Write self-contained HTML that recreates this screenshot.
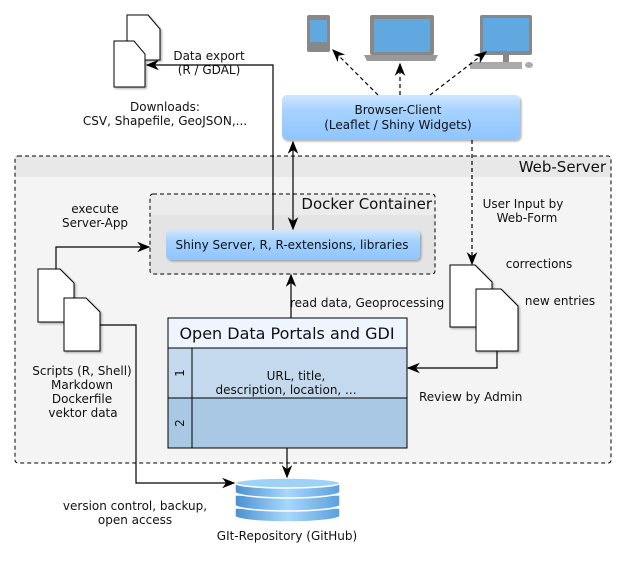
<!DOCTYPE html>
<html><head><meta charset="utf-8"><style>body{margin:0;background:#fff}svg{display:block}text{font-family:"DejaVu Sans","Liberation Sans",sans-serif;font-size:12px;fill:#111}</style></head><body>
<svg width="626" height="561" viewBox="0 0 626 561" xmlns="http://www.w3.org/2000/svg">
<defs>
<marker id="a" viewBox="0 0 10 10" refX="9" refY="5" markerWidth="11" markerHeight="11" orient="auto-start-reverse"><path d="M0,1 L10,5 L0,9 L3,5z" fill="#000"/></marker>
<linearGradient id="bl" x1="0" y1="0" x2="0" y2="1"><stop offset="0" stop-color="#cfe6ff"/><stop offset="0.35" stop-color="#a6d2ff"/><stop offset="1" stop-color="#8ec5ff"/></linearGradient>
<linearGradient id="db" x1="0" y1="0" x2="1" y2="0"><stop offset="0" stop-color="#4a90d0"/><stop offset="0.5" stop-color="#a8d8fb"/><stop offset="1" stop-color="#5aa0dc"/></linearGradient>
<filter id="sh"><feDropShadow dx="1.5" dy="1.5" stdDeviation="1" flood-opacity="0.3"/></filter>
</defs>
<rect x="15" y="156" width="596" height="307" rx="3" fill="#f4f4f4"/>
<rect x="15" y="156" width="596" height="21" fill="#e8e8e8"/>
<rect x="15" y="156" width="596" height="307" rx="3" fill="none" stroke="#000" stroke-dasharray="4,3"/>
<text x="606" y="172" text-anchor="end" style="font-size:15px">Web-Server</text>
<rect x="150" y="194" width="285" height="80" rx="3" fill="#e4e4e4"/>
<rect x="150" y="194" width="285" height="21" fill="#ececec"/>
<rect x="150" y="194" width="285" height="80" rx="3" fill="none" stroke="#000" stroke-dasharray="4,3"/>
<text x="432" y="209" text-anchor="end" style="font-size:15px">Docker Container</text>
<rect x="166" y="230" width="254" height="30" rx="5" fill="url(#bl)" filter="url(#sh)"/>
<text x="292" y="249" text-anchor="middle" style="font-size:12px">Shiny Server, R, R-extensions, libraries</text>
<rect x="282" y="95" width="238" height="45" rx="5" fill="url(#bl)" filter="url(#sh)"/>
<text x="398" y="114" text-anchor="middle">Browser-Client</text>
<text x="398" y="129" text-anchor="middle">(Leaflet / Shiny Widgets)</text>
<rect x="168" y="318" width="239" height="30" fill="#eef5ff" stroke="#000"/>
<rect x="168" y="348" width="239" height="50" fill="#c5d9ee" stroke="#000"/>
<rect x="168" y="398" width="239" height="50" fill="#a9c8e3" stroke="#000"/>
<line x1="192" y1="348" x2="192" y2="448" stroke="#000"/>
<text x="287" y="339" text-anchor="middle" style="font-size:16px">Open Data Portals and GDI</text>
<text x="296" y="380" text-anchor="middle">URL, title,</text>
<text x="286" y="394" text-anchor="middle">description, location, ...</text>
<text transform="translate(184,373) rotate(-90)" text-anchor="middle">1</text>
<text transform="translate(184,423) rotate(-90)" text-anchor="middle">2</text>
<g fill="#fff" stroke="#000" stroke-width="1" filter="url(#sh)">
<path d="M127,15 h21 l12,14 v31 h-33z"/><path d="M114,41 h20 l11,13 v33 h-31z"/>
<path d="M38,269 h22 l14,14 v39 h-36z"/><path d="M64,298 h22 l14,14 v39 h-36z"/>
<path d="M450,265 h25 l17,17 v45 h-42z"/><path d="M476,289 h25 l17,17 v45 h-42z"/>
</g>
<rect x="307" y="15" width="23" height="37" rx="2" fill="#888"/><rect x="310" y="20" width="17" height="22" fill="#5fa8e0"/>
<rect x="370" y="15" width="64" height="40" rx="2" fill="#888"/><rect x="374" y="19" width="56" height="33" fill="#5fa8e0"/><path d="M364,55 h74 l-3,6 h-68z" fill="#999"/>
<rect x="480" y="15" width="52" height="40" rx="2" fill="#888"/><rect x="483" y="18" width="46" height="33" fill="#5fa8e0"/><rect x="503" y="55" width="6" height="8" fill="#888"/><rect x="470" y="62" width="52" height="7" fill="#aaa"/><ellipse cx="529" cy="65" rx="4" ry="3" fill="#aaa"/>
<g stroke="#fff" stroke-width="1.5">
<path d="M235,508 v8 a52,6 0 0 0 105,0 v-8z" fill="url(#db)"/>
<path d="M235,495 v10 a52,6 0 0 0 105,0 v-10z" fill="url(#db)"/>
<path d="M235,483 v9 a52,6 0 0 0 105,0 v-9z" fill="url(#db)"/>
<ellipse cx="287.5" cy="483" rx="52.5" ry="5" fill="#9fd0f6"/>
</g>
<g fill="none" stroke="#000" stroke-width="1.2">
<path d="M273,230 V65 H147" marker-end="url(#a)"/>
<path d="M293,142 V229" marker-start="url(#a)" marker-end="url(#a)"/>
<path d="M291,318 V275" marker-end="url(#a)"/>
<path d="M56,269 V247 H149" marker-end="url(#a)"/>
<path d="M100,325 H136 V483 H234" marker-end="url(#a)"/>
<path d="M287,448 V477" marker-end="url(#a)"/>
<path d="M497,351 V368 H408" marker-end="url(#a)"/>
<g stroke-dasharray="4,3"><path d="M472,140 V264" marker-end="url(#a)"/>
<path d="M378,95 L333,50" marker-end="url(#a)"/><path d="M400,95 V64" marker-end="url(#a)"/><path d="M430,95 L486,52" marker-end="url(#a)"/></g>
</g>
<g text-anchor="middle">
<text x="209" y="60">Data export</text><text x="209" y="74">(R / GDAL)</text>
<text x="165" y="111">Downloads:</text><text x="165" y="125">CSV, Shapefile, GeoJSON,...</text>
<text x="95" y="213">execute</text><text x="95" y="227">Server-App</text>
<text x="523" y="208">User Input by</text><text x="527" y="222">Web-Form</text>
<text x="539" y="268">corrections</text><text x="560" y="305">new entries</text>
<text x="82" y="375">Scripts (R, Shell)</text><text x="82" y="389">Markdown</text><text x="82" y="403">Dockerfile</text><text x="83" y="417">vektor data</text>
<text x="135" y="510">version control, backup,</text><text x="135" y="524">open access</text>
<text x="287" y="540">GIt-Repository (GitHub)</text>
</g>
<text x="290" y="307">read data, Geoprocessing</text>
<text x="419" y="401">Review by Admin</text>
</svg>
</body></html>
